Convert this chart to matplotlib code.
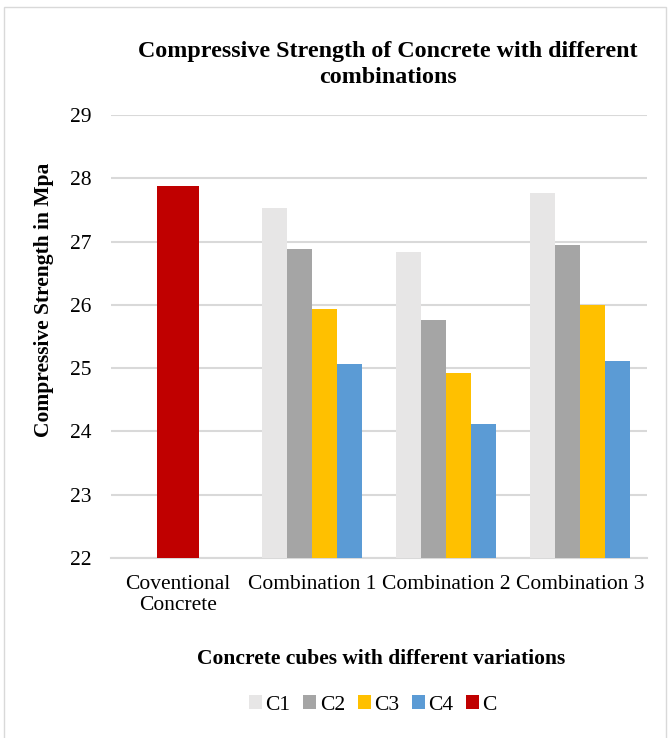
import matplotlib.pyplot as plt
import matplotlib.patches as patches
import numpy as np

plt.rcParams['font.family'] = ['Liberation Serif', 'DejaVu Serif']

categories = ['Coventional\nConcrete', 'Combination 1', 'Combination 2', 'Combination 3']
series = ['C1', 'C2', 'C3', 'C4']
c1 = [27.53, 26.84, 27.77]
c2 = [26.88, 25.76, 26.94]
c3 = [25.93, 24.93, 26.00]
c4 = [25.07, 24.12, 25.12]
c_conv = [27.88]
colours = ['#E7E6E6', '#A5A5A5', '#FFC000', '#5B9BD5']
red = '#C00000'

fig = plt.figure(figsize=(6.7, 7.38), dpi=100)
fig.patches.append(patches.Rectangle((4/670, -0.01), 662/670, 1.01 - 7/738,
                                     transform=fig.transFigure, fill=False,
                                     edgecolor='#D9D9D9', linewidth=1))
ax = fig.add_axes([111/670, 1 - 558/738, 536/670, 443/738])

x = np.arange(len(categories))
w = 0.187
for i, (vals, col, name) in enumerate(zip([c1, c2, c3, c4], colours, series)):
    ax.bar(x[1:] + (i - 1.5) * w, np.array(vals) - 22, bottom=22, width=w,
           color=col, label=name, zorder=3)
ax.bar(x[:1], np.array(c_conv) - 22, bottom=22, width=0.313, color=red,
       label='C', zorder=3)

ax.set_ylim(22, 29)
ax.set_xlim(-0.5, 3.5)
ax.set_yticks(range(22, 30))
ax.set_xticks(x)
ax.set_xticklabels(categories, linespacing=1.15)
ax.tick_params(axis='both', length=0, labelsize=15.5)
ax.tick_params(axis='y', pad=14)
ax.tick_params(axis='x', pad=12)
ax.grid(axis='y', color='#D9D9D9', linewidth=1.5, zorder=0)
for s in ['top', 'right', 'left']:
    ax.spines[s].set_visible(False)
ax.spines['bottom'].set_color('#D9D9D9')
ax.spines['bottom'].set_linewidth(1.5)

fig.suptitle('Compressive Strength of Concrete with different\ncombinations',
             x=388/670, y=1 - 41/738, fontsize=17.3, fontweight='bold',
             linespacing=1.3)
ax.set_ylabel('Compressive Strength in Mpa', fontsize=15.5, fontweight='bold')
ax.yaxis.set_label_coords(-0.106, 0.582)
fig.text(381/670, 1 - 659/738, 'Concrete cubes with different variations',
         ha='center', va='center', fontsize=15.5, fontweight='bold')
ax.legend(loc='center', bbox_to_anchor=(373/670, 1 - 705/738),
          bbox_transform=fig.transFigure, ncol=5, frameon=False, fontsize=15.5,
          handlelength=0.6, handleheight=0.6, handletextpad=0.15,
          columnspacing=0.6)

fig.savefig('out.png', dpi=100)
